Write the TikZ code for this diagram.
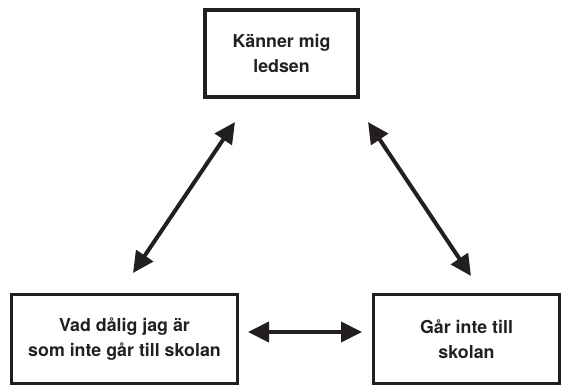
\documentclass[tikz,border=0pt]{standalone}
\usepackage{fontspec}
\setmainfont{TeX Gyre Heros}
\usetikzlibrary{arrows.meta}
\definecolor{ink}{HTML}{231F20}
\begin{document}
\begin{tikzpicture}[x=1pt,y=-1pt,
  box/.style={draw=ink, line width=3.5pt, inner sep=0pt, align=center,
    font=\bfseries\fontsize{17.8}{25}\selectfont, text=ink},
  dbl/.style={ink, line width=4pt, {Triangle[length=21pt,width=20pt]}-{Triangle[length=21pt,width=20pt]}}]
\useasboundingbox (0,0) rectangle (569,391);
\node[box, minimum width=153pt, minimum height=87pt] (top) at (281.5,53.5) {Känner mig\\ledsen};
\node[box, minimum width=226pt, minimum height=89pt] (left) at (124.5,339) {Vad dålig jag är\\som inte går till skolan};
\node[box, minimum width=186pt, minimum height=89pt] (right) at (466.5,339) {Går inte till\\skolan};
\coordinate (a1) at (235,122);
\coordinate (a2) at (133,273);
\coordinate (b1) at (368,122);
\coordinate (b2) at (471,276);
\coordinate (c1) at (248,332);
\coordinate (c2) at (362,332);
\draw[dbl] (a1) -- (a2);
\draw[dbl] (b1) -- (b2);
\draw[dbl] (c1) -- (c2);
\end{tikzpicture}
\end{document}
